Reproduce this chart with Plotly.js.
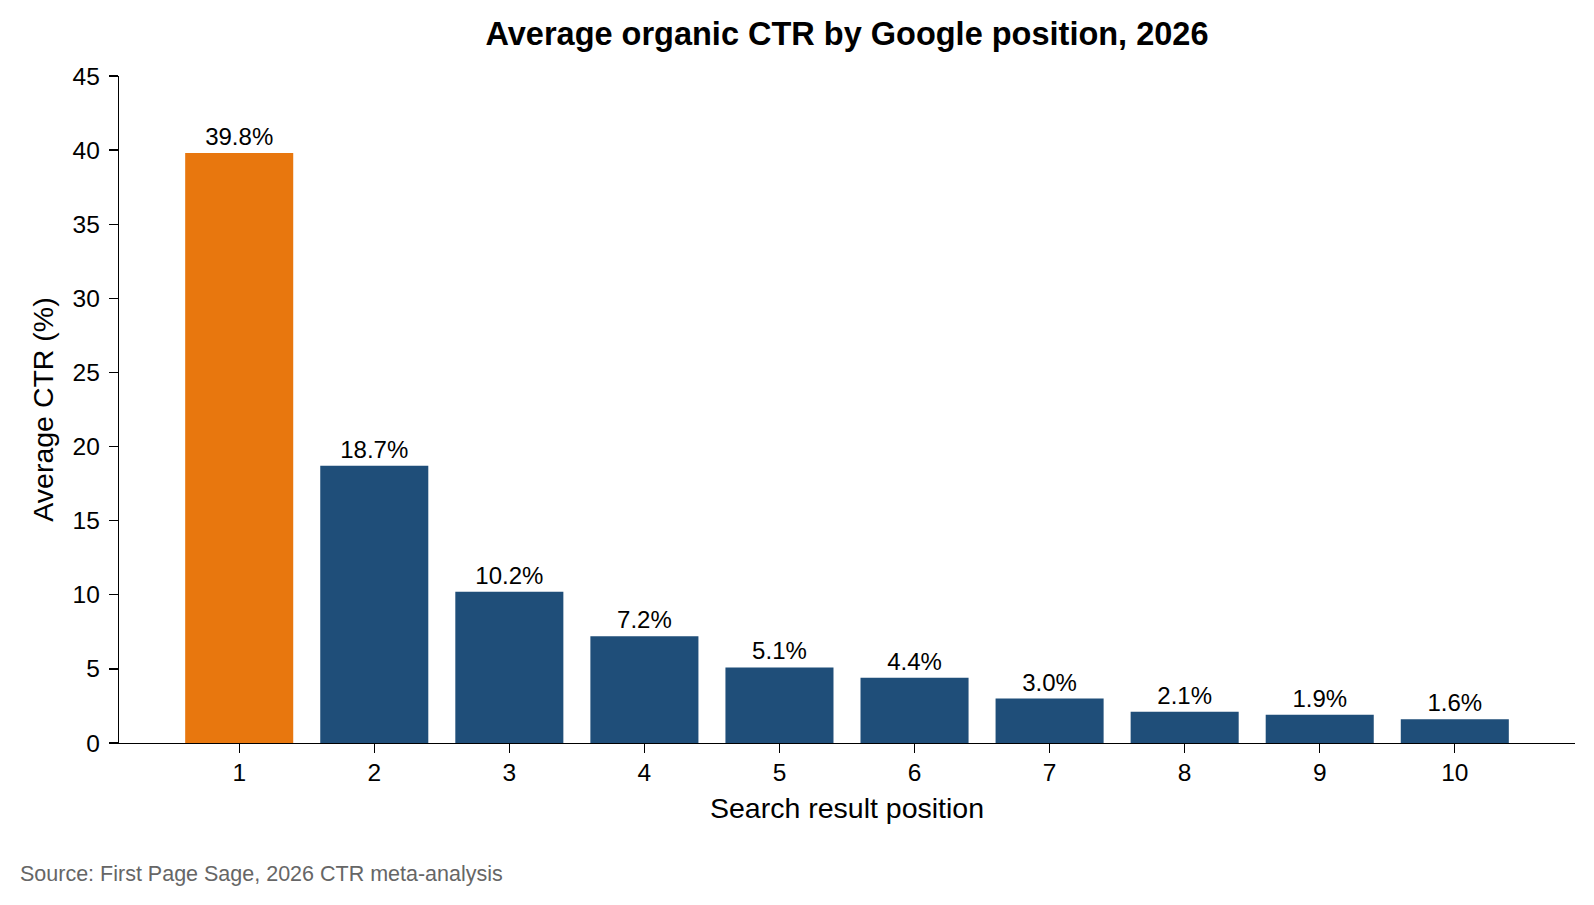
<!DOCTYPE html>
<html>
<head>
<meta charset="utf-8">
<script src="https://cdn.plot.ly/plotly-3.0.1.min.js"></script>
<style>
  html, body { margin: 0; padding: 0; background: #ffffff; }
  #grafica { width: 1594px; height: 905px; }
</style>
</head>
<body>
<div id="grafica"></div>
<script>
// DATOS DE LA GRAFICA
const posiciones = [1, 2, 3, 4, 5, 6, 7, 8, 9, 10];
const ctrPromedio = [39.8, 18.7, 10.2, 7.2, 5.1, 4.4, 3.0, 2.1, 1.9, 1.6];
const etiquetas = ['39.8%', '18.7%', '10.2%', '7.2%', '5.1%', '4.4%', '3.0%', '2.1%', '1.9%', '1.6%'];
const ticksY = [0, 5, 10, 15, 20, 25, 30, 35, 40, 45];

const NARANJA = '#E8770E';
const AZUL = '#1F4E79';
const FUENTE = "'Liberation Sans', Arial, sans-serif";

// la posicion 1 va resaltada
const coloresBarras = posiciones.map(p => p === 1 ? NARANJA : AZUL);

const trace = {
    type: 'bar',
    x: posiciones,
    y: ctrPromedio,
    width: 0.8,
    marker: { color: coloresBarras, line: { width: 0 } },
    text: etiquetas,
    textposition: 'outside',
    cliponaxis: false,
    textfont: { family: FUENTE, size: 24, color: '#000000' },
    hoverinfo: 'x+y'
};

const layout = {
    width: 1594,
    height: 905,
    paper_bgcolor: '#ffffff',
    plot_bgcolor: '#ffffff',
    font: { family: FUENTE, color: '#000000', size: 22 },
    margin: { l: 119, r: 19, t: 76, b: 162 },
    showlegend: false,
    bargap: 0.2,
    title: {
        text: '<b>Average organic CTR by Google position, 2026</b>',
        font: { family: FUENTE, size: 32.5, color: '#000000' },
        x: 0.5, xref: 'paper', xanchor: 'center',
        y: 1 - 34 / 905, yref: 'container', yanchor: 'middle'
    },
    xaxis: {
        range: [0.11, 10.89],
        tickmode: 'array',
        tickvals: posiciones,
        ticktext: posiciones.map(String),
        ticks: 'outside',
        ticklen: 9,
        tickwidth: 1.3,
        tickcolor: '#000000',
        showline: true,
        linecolor: '#000000',
        linewidth: 1.3,
        showgrid: false,
        zeroline: false,
        ticklabelstandoff: -2,
        tickfont: { size: 24.5 },
        title: { text: 'Search result position', font: { size: 28.5 }, standoff: 13 }
    },
    yaxis: {
        range: [0, 45],
        tickmode: 'array',
        tickvals: ticksY,
        ticks: 'outside',
        ticklen: 9,
        tickwidth: 1.3,
        tickcolor: '#000000',
        showline: true,
        linecolor: '#000000',
        linewidth: 1.3,
        showgrid: false,
        zeroline: false,
        ticklabelstandoff: 4,
        tickfont: { size: 24.5 },
        title: { text: 'Average CTR (%)', font: { size: 28.5 }, standoff: 10 }
    },
    annotations: [{
        text: 'Source: First Page Sage, 2026 CTR meta-analysis',
        xref: 'paper', yref: 'paper',
        x: (18 - 119) / 1456, xanchor: 'left',
        y: (742.7 - 888) / 666.7, yanchor: 'bottom',
        showarrow: false,
        font: { family: FUENTE, size: 21.5, color: '#666666' }
    }]
};

Plotly.newPlot('grafica', [trace], layout, {
    displayModeBar: false,
    responsive: false,
    staticPlot: true
});
</script>
</body>
</html>
